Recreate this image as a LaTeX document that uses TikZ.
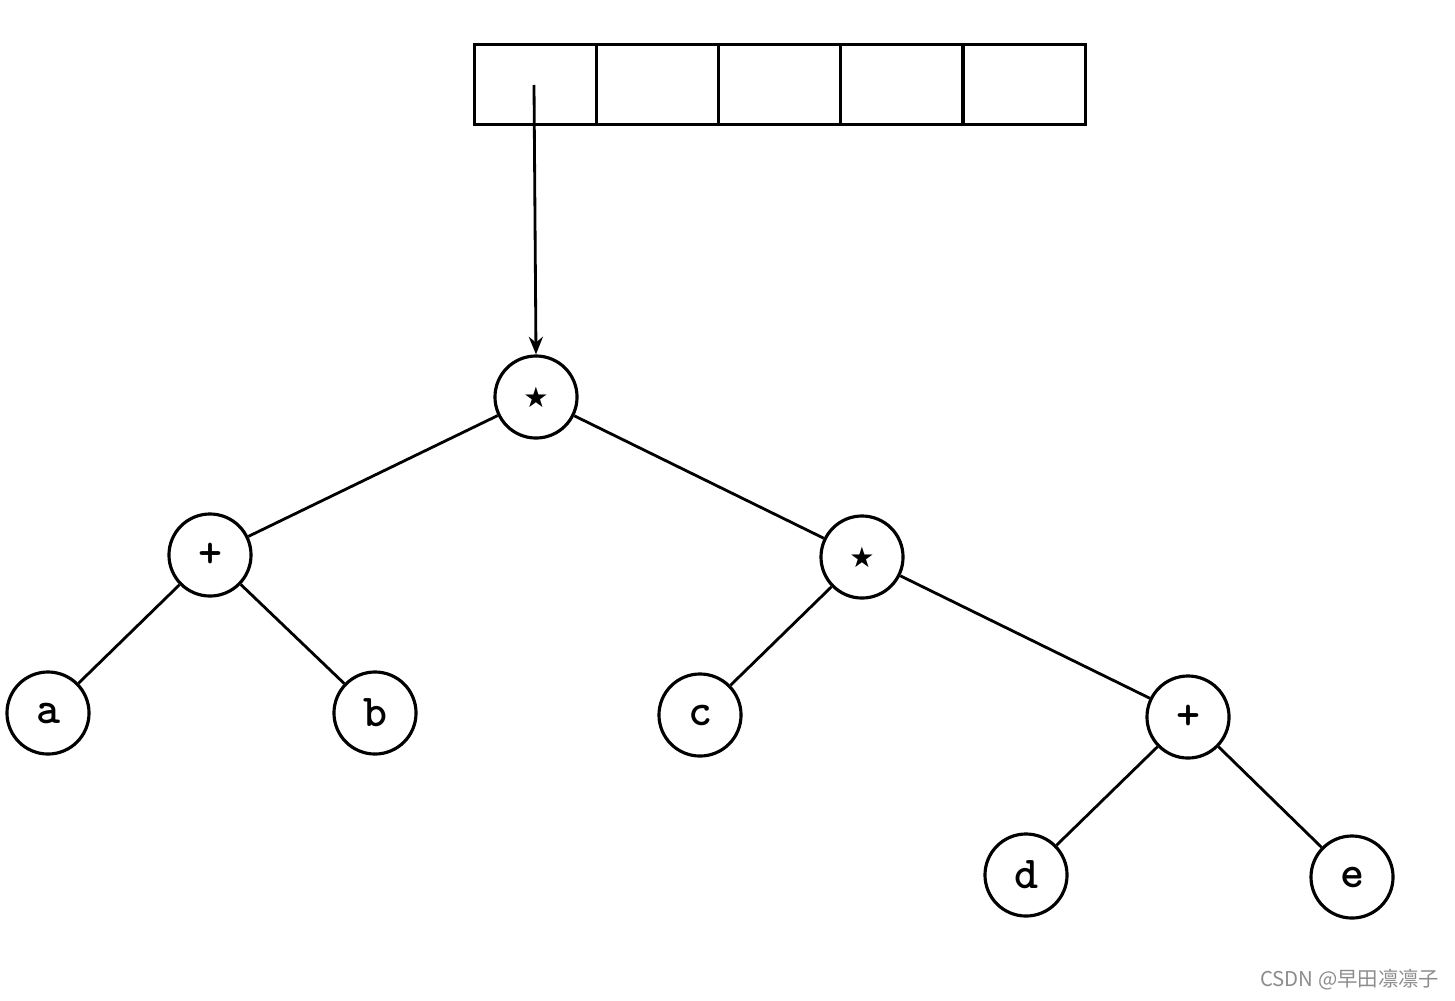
\documentclass[tikz,border=0pt]{standalone}
\usepackage{fontspec}
\newfontfamily\wmfont{Noto Sans CJK SC}
\newfontfamily\symfont{DejaVu Sans}
\usetikzlibrary{arrows.meta}
\begin{document}
\begin{tikzpicture}[x=0.01cm,y=-0.01cm,
  tnode/.style={circle,draw,line width=0.9pt,minimum size=0.82cm,inner sep=0pt,font=\ttfamily\bfseries\fontsize{13}{13}\selectfont},
  edge/.style={line width=0.8pt},
  cell/.style={draw,line width=0.9pt,minimum width=1.215cm,minimum height=0.8cm,inner sep=0pt,anchor=north west}]
\useasboundingbox (0,0) rectangle (1455,1000);
\node[cell] (c1) at (473,43) {};
\node[cell] (c2) at (595,43) {};
\node[cell] (c3) at (717,43) {};
\node[cell] (c4) at (839,43) {};
\node[cell] (c5) at (962,43) {};
\coordinate (ptr) at (534,85);
\node[tnode] (r) at (536,397) {\symfont\fontsize{8}{8}\selectfont ★};
\node[tnode] (p1) at (210,555) {+};
\node[tnode] (m2) at (862,557) {\symfont\fontsize{8}{8}\selectfont ★};
\node[tnode] (a) at (48,713) {a};
\node[tnode] (b) at (375,713) {b};
\node[tnode] (c) at (700,715) {c};
\node[tnode] (p2) at (1188,717) {+};
\node[tnode] (d) at (1026,875) {d};
\node[tnode] (e) at (1352,877) {e};
\draw[edge,-{Stealth[length=5pt,width=4pt]}] (ptr) -- (r.north);
\draw[edge] (r) -- (p1);
\draw[edge] (r) -- (m2);
\draw[edge] (p1) -- (a);
\draw[edge] (p1) -- (b);
\draw[edge] (m2) -- (c);
\draw[edge] (m2) -- (p2);
\draw[edge] (p2) -- (d);
\draw[edge] (p2) -- (e);
\node[text=black!45,font=\wmfont\fontsize{5.8}{6}\selectfont,anchor=east,inner sep=0pt] (wm) at (1440,980) {CSDN @早田凛凛子};
\end{tikzpicture}
\end{document}
